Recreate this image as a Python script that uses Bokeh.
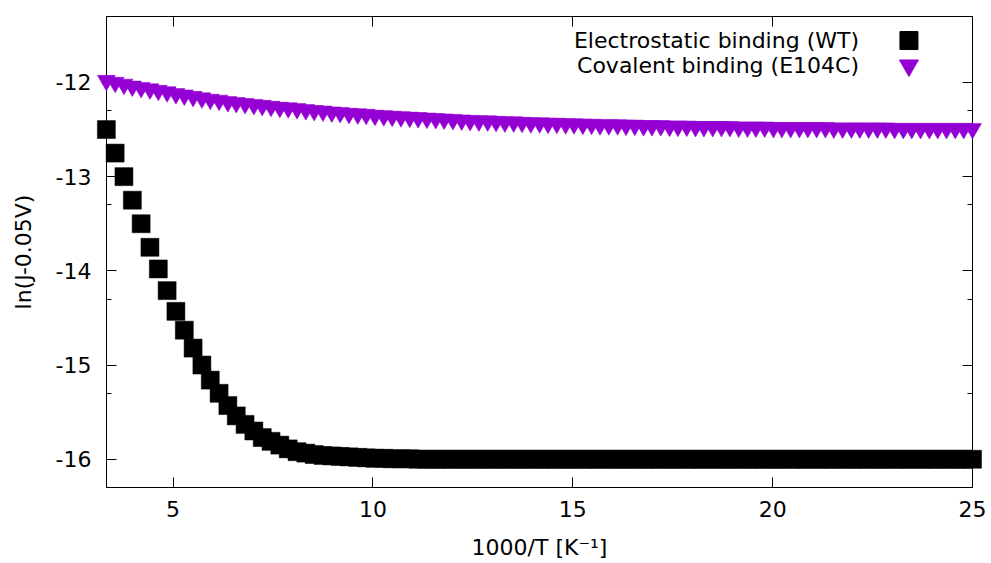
from bokeh.plotting import figure
from bokeh.models import (Range1d, FixedTicker, LinearAxis, CustomJSTickFormatter,
                          ColumnDataSource)
from bokeh.core.properties import value
from bokeh.embed import file_html
from bokeh.resources import INLINE

# ---------------- data ----------------
inv_T = [3.33, 3.55, 3.77, 3.98, 4.20, 4.42, 4.63, 4.85, 5.07, 5.28,
         5.50, 5.72, 5.93, 6.15, 6.37, 6.58, 6.80, 7.02, 7.23, 7.45,
         7.67, 7.88, 8.10, 8.32, 8.53, 8.75, 8.97, 9.18, 9.40, 9.62,
         9.83, 10.05, 10.27, 10.48, 10.70, 10.92, 11.13, 11.35, 11.57, 11.78,
         12.00, 12.22, 12.43, 12.65, 12.87, 13.08, 13.30, 13.52, 13.73, 13.95,
         14.17, 14.38, 14.60, 14.82, 15.03, 15.25, 15.47, 15.68, 15.90, 16.12,
         16.33, 16.55, 16.77, 16.98, 17.20, 17.42, 17.63, 17.85, 18.07, 18.28,
         18.50, 18.72, 18.93, 19.15, 19.37, 19.58, 19.80, 20.02, 20.23, 20.45,
         20.67, 20.88, 21.10, 21.32, 21.53, 21.75, 21.97, 22.18, 22.40, 22.62,
         22.83, 23.05, 23.27, 23.48, 23.70, 23.92, 24.13, 24.35, 24.57, 24.78,
         25.00]

electrostatic_wt = [-12.50, -12.75, -13.00, -13.25, -13.50, -13.75, -13.98, -14.21, -14.43, -14.63,
                    -14.82, -15.00, -15.16, -15.30, -15.43, -15.54, -15.63, -15.70, -15.77, -15.81,
                    -15.85, -15.89, -15.92, -15.935, -15.95, -15.96, -15.965, -15.97, -15.975, -15.98,
                    -15.985, -15.99, -15.99, -15.995, -15.995, -15.995, -16.0, -16.0, -16.0, -16.0,
                    -16.0, -16.0, -16.0, -16.0, -16.0, -16.0, -16.0, -16.0, -16.0, -16.0,
                    -16.0, -16.0, -16.0, -16.0, -16.0, -16.0, -16.0, -16.0, -16.0, -16.0,
                    -16.0, -16.0, -16.0, -16.0, -16.0, -16.0, -16.0, -16.0, -16.0, -16.0,
                    -16.0, -16.0, -16.0, -16.0, -16.0, -16.0, -16.0, -16.0, -16.0, -16.0,
                    -16.0, -16.0, -16.0, -16.0, -16.0, -16.0, -16.0, -16.0, -16.0, -16.0,
                    -16.0, -16.0, -16.0, -16.0, -16.0, -16.0, -16.0, -16.0, -16.0, -16.0,
                    -16.0]

covalent_e104c = [-11.98, -12.00, -12.02, -12.04, -12.055, -12.07, -12.085, -12.10, -12.12, -12.135,
                  -12.15, -12.165, -12.18, -12.19, -12.205, -12.215, -12.225, -12.235, -12.245, -12.255,
                  -12.265, -12.27, -12.28, -12.29, -12.30, -12.305, -12.315, -12.32, -12.33, -12.335,
                  -12.34, -12.35, -12.355, -12.36, -12.365, -12.37, -12.375, -12.38, -12.385, -12.39,
                  -12.395, -12.40, -12.405, -12.41, -12.41, -12.415, -12.42, -12.42, -12.425, -12.43,
                  -12.43, -12.435, -12.435, -12.44, -12.44, -12.445, -12.445, -12.45, -12.45, -12.45,
                  -12.455, -12.455, -12.46, -12.46, -12.46, -12.465, -12.465, -12.465, -12.47, -12.47,
                  -12.47, -12.47, -12.47, -12.475, -12.475, -12.475, -12.475, -12.48, -12.48, -12.48,
                  -12.48, -12.48, -12.48, -12.48, -12.485, -12.485, -12.485, -12.485, -12.485, -12.485,
                  -12.485, -12.49, -12.49, -12.49, -12.49, -12.49, -12.49, -12.49, -12.49, -12.49,
                  -12.49]

series_labels = ["Electrostatic binding (WT)", "Covalent binding (E104C)"]
x_ticks = [5, 10, 15, 20, 25]
y_ticks = [-16, -15, -14, -13, -12]
y_minor_ticks = [-15.3, -14.3, -13.3, -12.3]
x_label = "1000/T [K\u207b\u00b9]"
y_label = "ln(J-0.05V)"

# ---------------- layout / style ----------------
FONT = "DejaVu Sans"
FS = "22px"
PURPLE = "#9400D3"
X_RANGE = (1000 / 300, 25.0)
Y_RANGE = (-16.3, -11.3)
LEG_TEXT_X = 22.16
LEG_MARK_X = 23.41
LEG_Y = [-11.555, -11.82]

p = figure(width=991, height=563, x_range=Range1d(*X_RANGE), y_range=Range1d(*Y_RANGE),
           output_backend="svg", toolbar_location=None,
           min_border_left=106, min_border_right=19, min_border_top=16, min_border_bottom=76)
p.background_fill_color = "white"
p.border_fill_color = "white"
p.outline_line_color = "black"
p.outline_line_width = 1
p.xgrid.visible = False
p.ygrid.visible = False

xt = FixedTicker(ticks=x_ticks)
yt = FixedTicker(ticks=y_ticks, minor_ticks=y_minor_ticks)
plain = CustomJSTickFormatter(code="return String(tick)")
blank = CustomJSTickFormatter(code="return ''")


def style_axis(ax, tick_len):
    ax.axis_line_color = "black"
    ax.major_tick_line_color = "black"
    ax.minor_tick_line_color = "black"
    ax.major_tick_in = tick_len
    ax.major_tick_out = 0
    ax.minor_tick_in = 5
    ax.minor_tick_out = 0
    ax.major_label_text_font = FONT
    ax.major_label_text_font_size = FS
    ax.major_label_text_color = "black"
    ax.axis_label_text_font = FONT
    ax.axis_label_text_font_size = FS
    ax.axis_label_text_font_style = "normal"
    ax.axis_label_text_color = "black"


xa = p.xaxis[0]
xa.ticker = xt
xa.formatter = plain
style_axis(xa, 10)
xa.major_label_standoff = 13
xa.axis_label = x_label
xa.axis_label_standoff = 15

ya = p.yaxis[0]
ya.ticker = yt
ya.formatter = plain
style_axis(ya, 10)
ya.major_label_standoff = 15
ya.axis_label = y_label
ya.axis_label_standoff = 17

top = LinearAxis(ticker=xt, formatter=blank)
style_axis(top, 10)
top.major_label_text_font_size = "1px"
top.major_label_standoff = 0
p.add_layout(top, "above")

right = LinearAxis(ticker=yt, formatter=blank)
style_axis(right, 10)
right.major_label_text_font_size = "1px"
right.major_label_standoff = 0
p.add_layout(right, "right")

src = ColumnDataSource(dict(x=inv_T, wt=electrostatic_wt, cov=covalent_e104c))
r1 = p.scatter("x", "wt", source=src, marker="square", size=18,
               fill_color="black", line_color="black", line_width=0.5)
r2 = p.scatter("x", "cov", source=src, marker="inverted_triangle", size=18,
               fill_color=PURPLE, line_color=PURPLE, line_width=0.5)
r1.level = "overlay"
r2.level = "overlay"

# legend (text right-aligned, symbol on the right)
p.text(x=[LEG_TEXT_X, LEG_TEXT_X], y=LEG_Y, text=series_labels,
       text_align="right", text_baseline="middle",
       text_font=value(FONT), text_font_size=FS, text_color="black")
p.scatter(x=[LEG_MARK_X], y=[LEG_Y[0]], marker="square", size=18,
          fill_color="black", line_color="black")
p.scatter(x=[LEG_MARK_X], y=[LEG_Y[1]], marker="inverted_triangle", size=19,
          fill_color=PURPLE, line_color=PURPLE)

open("out.html", "w").write(file_html(p, INLINE))
